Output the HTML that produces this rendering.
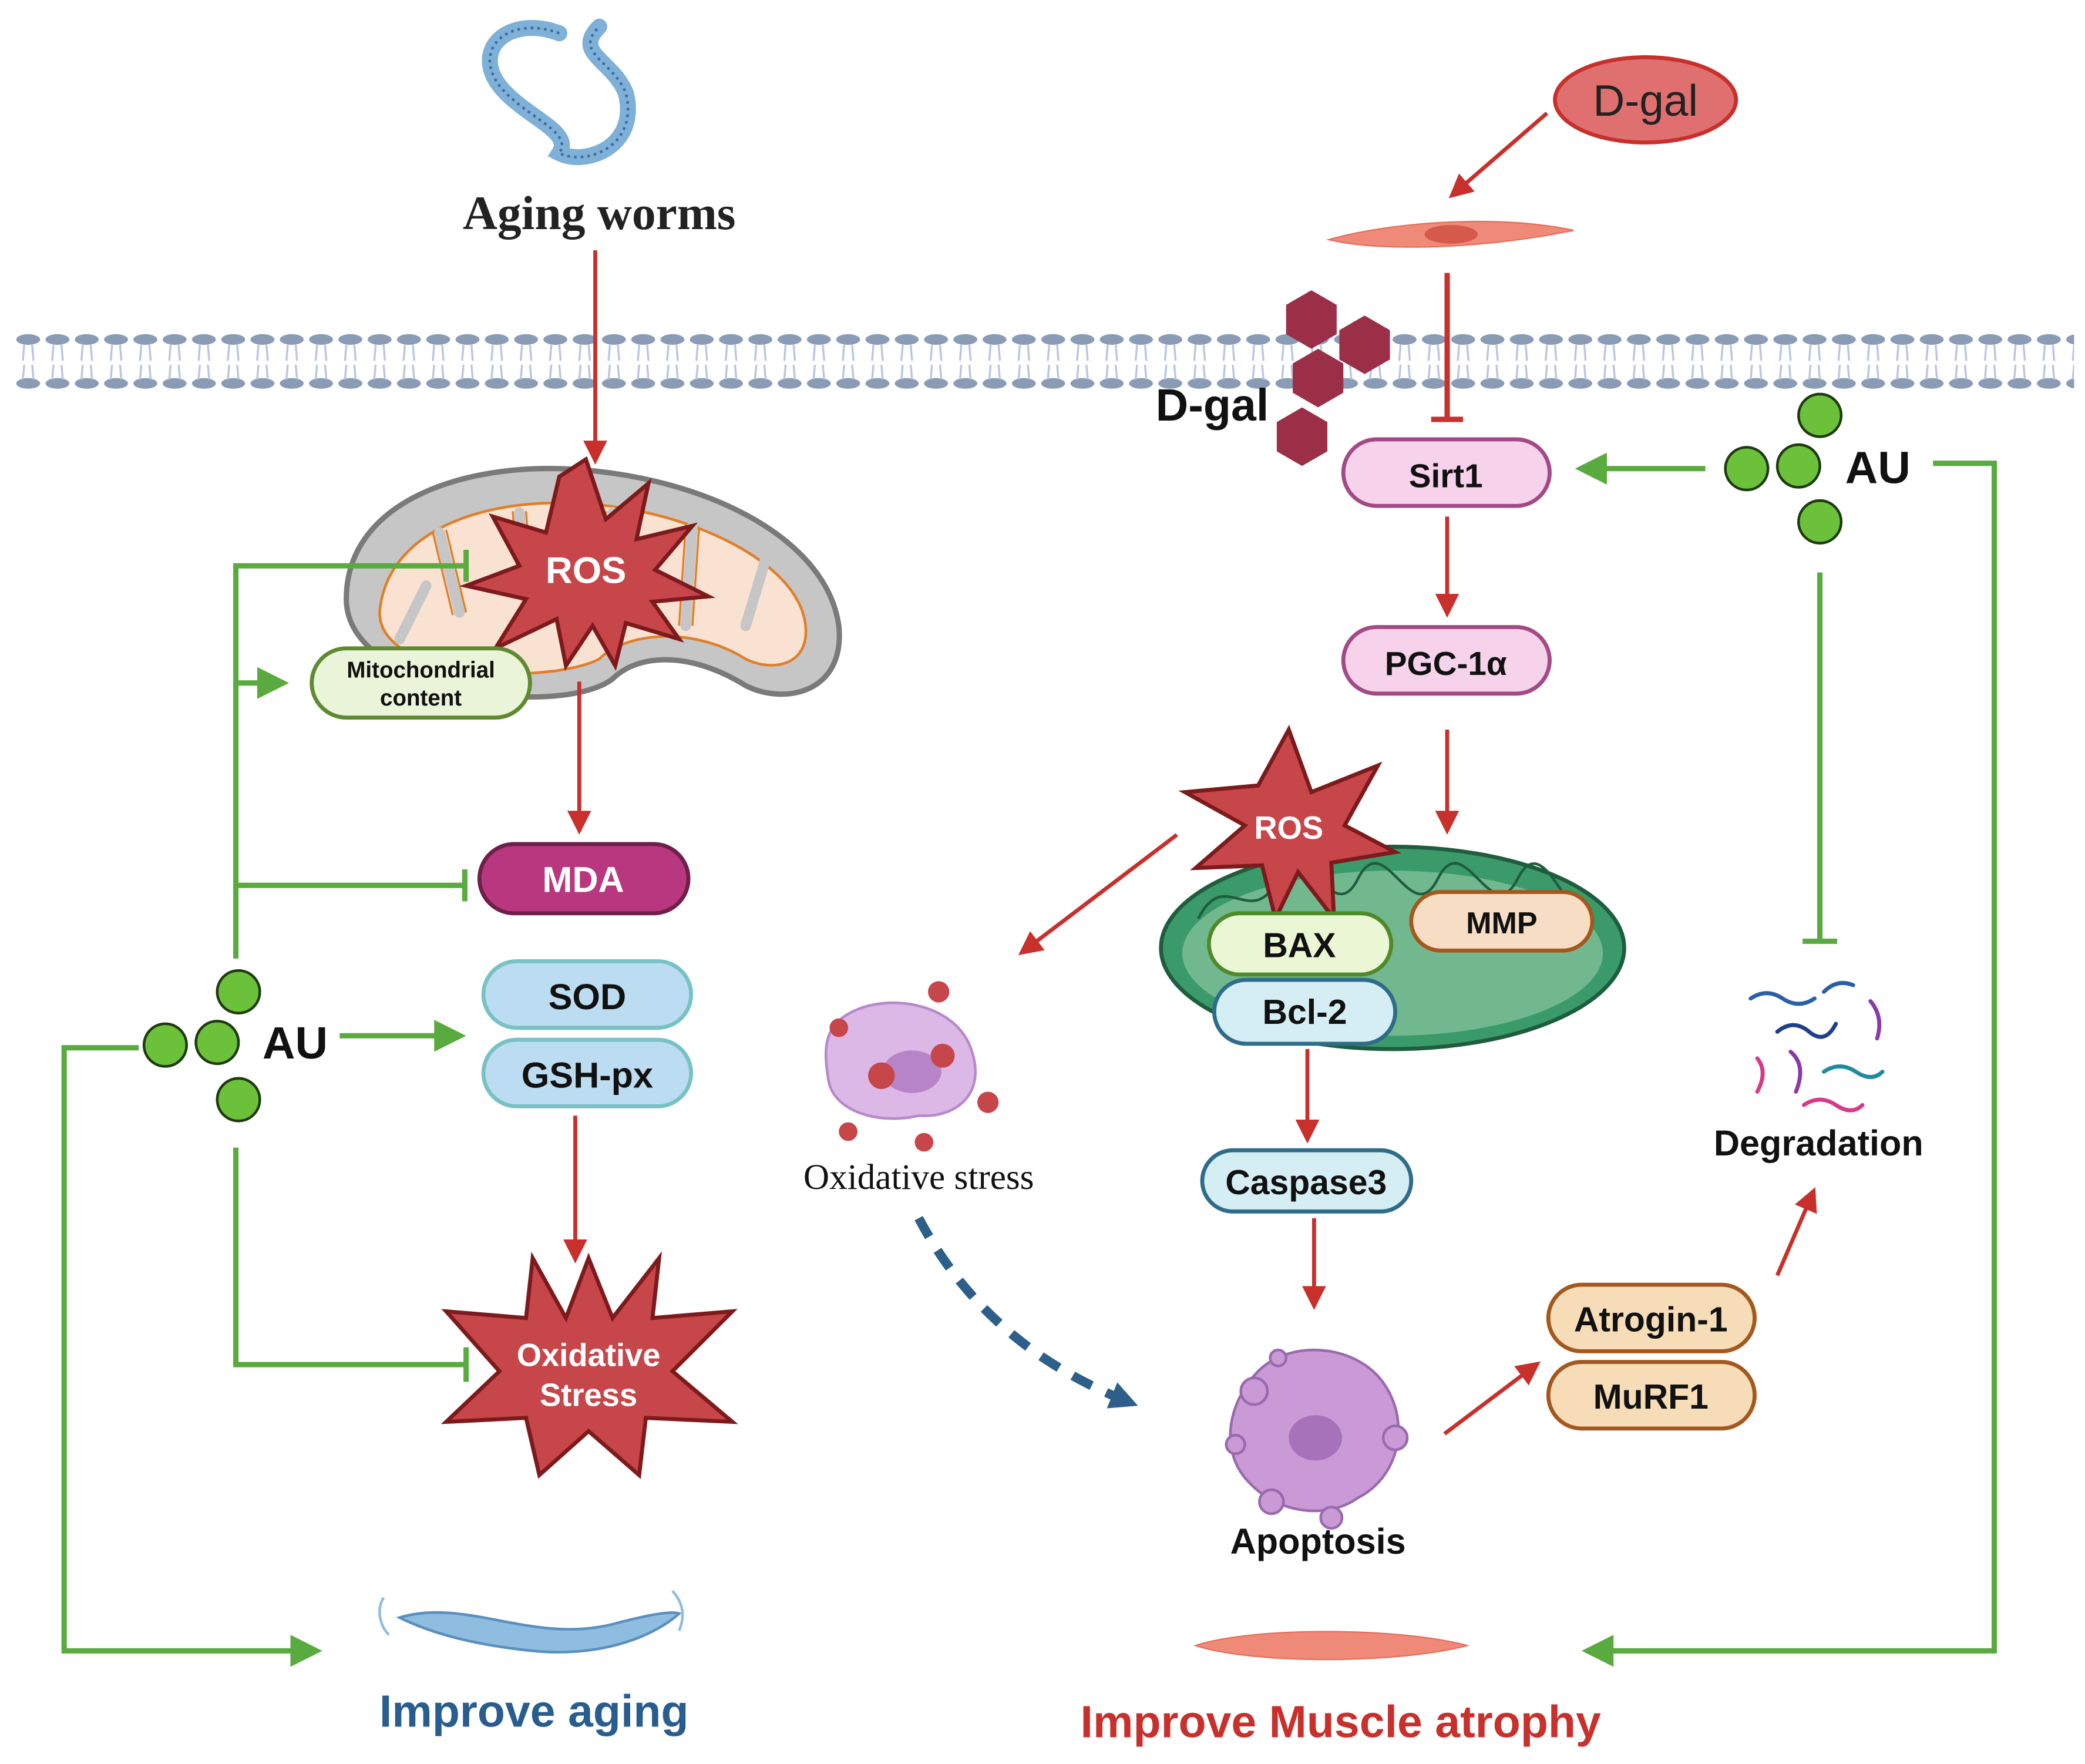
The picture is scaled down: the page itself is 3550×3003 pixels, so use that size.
<!DOCTYPE html>
<html><head><meta charset="utf-8"><style>
html,body{margin:0;padding:0;background:#fff}
svg{display:block}
text{font-family:"Liberation Sans",sans-serif;font-weight:bold}
</style></head><body>
<svg width="3550" height="3003" viewBox="0 0 1566 1325" xmlns="http://www.w3.org/2000/svg">
<defs>
<pattern id="mem" x="10" y="0" width="22" height="60" patternUnits="userSpaceOnUse">
<ellipse cx="11" cy="15" rx="9" ry="4" fill="#8a9bb5"/>
<ellipse cx="11" cy="48" rx="9" ry="4" fill="#8a9bb5"/>
<path d="M8,19 L7,31 M14,19 L15,31 M8,34 L7,45 M14,34 L15,45" stroke="#b7c6e0" stroke-width="1.5"/>
</pattern>
<marker id="ar" markerWidth="6" markerHeight="6" refX="3" refY="3" orient="auto" markerUnits="strokeWidth"><path d="M0,0 L6,3 L0,6z" fill="#c8302c"/></marker>
<marker id="ag" markerWidth="6" markerHeight="6" refX="3" refY="3" orient="auto" markerUnits="strokeWidth"><path d="M0,0 L6,3 L0,6z" fill="#5aab3f"/></marker>
<marker id="ab" markerWidth="3" markerHeight="3" refX="1.5" refY="1.5" orient="auto" markerUnits="strokeWidth"><path d="M0,0 L3,1.5 L0,3z" fill="#2d5f8a"/></marker>
</defs>
<rect width="1566" height="1325" fill="#fff"/>
<rect x="10" y="240" width="1548" height="60" fill="url(#mem)"/>

<path d="M420,25 C380,10 350,40 380,70 C400,90 430,100 420,115 C440,125 480,110 470,70 C460,45 430,40 450,20" fill="none" stroke="#7fb0d8" stroke-width="12" stroke-linecap="round"/>
<path d="M420,25 C380,10 350,40 380,70 C400,90 430,100 420,115 C440,125 480,110 470,70 C460,45 430,40 450,20" fill="none" stroke="#3c6fa0" stroke-width="2" stroke-dasharray="2 3"/>
<text x="450" y="172" style="font-family:'Liberation Serif',serif;font-weight:bold" font-size="36" text-anchor="middle" fill="#222">Aging worms</text>
<line x1="447" y1="188" x2="447" y2="340" stroke="#c8302c" stroke-width="3" marker-end="url(#ar)"/>

<path d="M260,450 C260,380 340,350 420,352 C520,355 620,400 630,470 C635,520 590,530 560,515 C520,490 480,490 460,510 C420,540 260,520 260,450z" fill="#c6c6c6" stroke="#7a7a7a" stroke-width="4"/>
<path d="M285,460 C290,400 360,375 430,378 C510,380 600,420 605,470 C608,500 580,505 560,495 C520,470 470,475 450,495 C410,515 285,510 285,460z" fill="#fae2d3" stroke="#e07f2a" stroke-width="2"/>
<g stroke="#c6c6c6" stroke-width="8" stroke-linecap="round">
<line x1="330" y1="400" x2="345" y2="460"/><line x1="390" y1="385" x2="395" y2="450"/><line x1="460" y1="385" x2="455" y2="460"/><line x1="520" y1="395" x2="515" y2="470"/><line x1="575" y1="420" x2="560" y2="470"/><line x1="300" y1="480" x2="320" y2="440"/>
</g>
<g stroke="#e07f2a" stroke-width="1.5" fill="none">
<path d="M325,400 L340,462 M335,398 L350,460 M385,384 L390,450 M395,384 L400,450 M455,384 L450,460 M465,385 L460,460 M515,394 L510,470 M525,396 L520,470"/>
</g>
<polygon points="440,345 455,390 487,363 478,405 520,395 492,428 532,448 490,452 510,480 470,468 462,500 445,470 425,500 418,465 372,487 395,450 350,440 390,425 370,388 410,400 420,358" fill="#c6464a" stroke="#7d1a1c" stroke-width="3"/>
<text x="440" y="438" font-size="28" fill="#fff" text-anchor="middle">ROS</text>
<rect x="234" y="487" width="164" height="52" rx="26" fill="#e9f4d8" stroke="#5f8a2f" stroke-width="3"/>
<text x="316" y="509" font-size="17" text-anchor="middle" fill="#111">Mitochondrial</text>
<text x="316" y="530" font-size="17" text-anchor="middle" fill="#111">content</text>
<line x1="435" y1="512" x2="435" y2="618" stroke="#c8302c" stroke-width="3" marker-end="url(#ar)"/>

<rect x="360" y="634" width="157" height="52" rx="26" fill="#b8377f" stroke="#6e1f4a" stroke-width="3"/>
<text x="438" y="670" font-size="27" fill="#fff" text-anchor="middle">MDA</text>
<rect x="363" y="722" width="156" height="50" rx="25" fill="#bcdcf2" stroke="#79c2c4" stroke-width="3"/>
<text x="441" y="758" font-size="27" fill="#111" text-anchor="middle">SOD</text>
<rect x="363" y="781" width="156" height="50" rx="25" fill="#bcdcf2" stroke="#79c2c4" stroke-width="3"/>
<text x="441" y="817" font-size="27" fill="#111" text-anchor="middle">GSH-px</text>
<line x1="432" y1="838" x2="432" y2="940" stroke="#c8302c" stroke-width="3" marker-end="url(#ar)"/>
<polygon points="442,945 460,990 495,945 490,990 550,985 505,1030 550,1068 485,1065 480,1108 442,1075 405,1108 395,1065 335,1068 375,1030 335,985 395,990 400,945 425,990" fill="#c6464a" stroke="#7d1a1c" stroke-width="3"/>
<text x="442" y="1026" font-size="24" fill="#fff" text-anchor="middle">Oxidative</text>
<text x="442" y="1056" font-size="24" fill="#fff" text-anchor="middle">Stress</text>

<g fill="#6cc13a" stroke="#1f3a10" stroke-width="2">
<circle cx="179" cy="745" r="16"/><circle cx="124" cy="785" r="16"/><circle cx="163" cy="783" r="16"/><circle cx="179" cy="826" r="16"/>
</g>
<text x="197" y="795" font-size="34" fill="#111">AU</text>
<g fill="none" stroke="#5aab3f" stroke-width="4">
<path d="M177,720 L177,425 L350,425"/><line x1="350" y1="413" x2="350" y2="437"/>
<path d="M177,513 L205,513" marker-end="url(#ag)"/>
<path d="M177,665 L349,665"/><line x1="349" y1="653" x2="349" y2="677"/>
<path d="M255,778 L338,778" marker-end="url(#ag)"/>
<path d="M177,862 L177,1025 L350,1025"/><line x1="350" y1="1012" x2="350" y2="1038"/>
<path d="M104,787 L48,787 L48,1240 L230,1240" marker-end="url(#ag)"/>
</g>
<path d="M300,1215 C350,1200 400,1235 460,1220 C490,1212 505,1210 510,1212 C490,1230 450,1245 400,1240 C350,1235 320,1225 300,1215z" fill="#8fbde0" stroke="#5a8fbf" stroke-width="2"/>
<path d="M288,1200 C282,1210 286,1222 292,1228 M505,1195 C514,1205 514,1215 510,1225" fill="none" stroke="#8fbde0" stroke-width="2"/>
<text x="401" y="1297" font-size="34" fill="#2a5d8f" text-anchor="middle">Improve aging</text>

<ellipse cx="1236" cy="75" rx="68" ry="32" fill="#e07070" stroke="#c8302c" stroke-width="3"/>
<text x="1236" y="87" style="font-weight:normal" font-size="33" fill="#222" text-anchor="middle">D-gal</text>
<path d="M1162,85 L1095,143" stroke="#c8302c" stroke-width="3" fill="none" marker-end="url(#ar)"/>
<path d="M998,180 C1040,168 1120,160 1182,173 C1120,186 1040,190 998,180z" fill="#f08a78" stroke="#e56e5a" stroke-width="1"/>
<ellipse cx="1090" cy="176" rx="20" ry="7" fill="#d55a4c"/>
<line x1="1087" y1="205" x2="1087" y2="315" stroke="#c8302c" stroke-width="4"/>
<line x1="1075" y1="315" x2="1099" y2="315" stroke="#c8302c" stroke-width="4"/>
<g fill="#9b2f47">
<polygon points="985,218 1004,229 1004,251 985,262 966,251 966,229"/>
<polygon points="1025,237 1044,248 1044,270 1025,281 1006,270 1006,248"/>
<polygon points="990,262 1009,273 1009,295 990,306 971,295 971,273"/>
<polygon points="978,306 997,317 997,339 978,350 959,339 959,317"/>
</g>
<text x="868" y="316" font-size="34" fill="#111">D-gal</text>
<rect x="1009" y="330" width="155" height="50" rx="25" fill="#f6d3ea" stroke="#a24a86" stroke-width="3"/>
<text x="1086" y="366" font-size="25" fill="#111" text-anchor="middle">Sirt1</text>
<line x1="1087" y1="388" x2="1087" y2="455" stroke="#c8302c" stroke-width="3" marker-end="url(#ar)"/>
<rect x="1009" y="471" width="155" height="50" rx="25" fill="#f6d3ea" stroke="#a24a86" stroke-width="3"/>
<text x="1086" y="507" font-size="25" fill="#111" text-anchor="middle">PGC-1α</text>
<line x1="1087" y1="548" x2="1087" y2="618" stroke="#c8302c" stroke-width="3" marker-end="url(#ar)"/>

<ellipse cx="1046" cy="712" rx="174" ry="76" fill="#3a9a6a" stroke="#1f5d3e" stroke-width="3"/>
<ellipse cx="1046" cy="716" rx="158" ry="62" fill="#72b88f"/>
<path d="M900,690 C920,650 940,700 960,660 S1000,700 1020,660 S1060,700 1080,660 S1120,700 1140,660 S1180,700 1195,690" fill="none" stroke="#1f5d3e" stroke-width="2"/>
<polygon points="968,548 985,595 1035,575 1010,620 1048,640 1000,648 1002,690 975,655 958,690 948,650 898,652 935,620 890,595 945,590" fill="#c6464a" stroke="#7d1a1c" stroke-width="3"/>
<text x="968" y="630" font-size="24" fill="#fff" text-anchor="middle">ROS</text>
<rect x="908" y="686" width="137" height="46" rx="23" fill="#eaf6d4" stroke="#4f8a2a" stroke-width="3"/>
<text x="976" y="719" font-size="26" fill="#111" text-anchor="middle">BAX</text>
<rect x="1060" y="670" width="136" height="44" rx="22" fill="#f6ddc4" stroke="#a4581e" stroke-width="3"/>
<text x="1128" y="701" font-size="23" fill="#111" text-anchor="middle">MMP</text>
<rect x="912" y="736" width="136" height="48" rx="24" fill="#d4eef4" stroke="#2e6c8a" stroke-width="3"/>
<text x="980" y="769" font-size="26" fill="#111" text-anchor="middle">Bcl-2</text>
<line x1="982" y1="788" x2="982" y2="850" stroke="#c8302c" stroke-width="3" marker-end="url(#ar)"/>
<rect x="903" y="864" width="157" height="46" rx="23" fill="#d4eef4" stroke="#2e6c8a" stroke-width="3"/>
<text x="981" y="897" font-size="26" fill="#111" text-anchor="middle">Caspase3</text>
<line x1="987" y1="915" x2="987" y2="975" stroke="#c8302c" stroke-width="3" marker-end="url(#ar)"/>
<path d="M884,627 L772,712" stroke="#c8302c" stroke-width="3" fill="none" marker-end="url(#ar)"/>

<path d="M640,760 C670,745 720,755 730,790 C740,820 720,840 690,838 C660,845 625,835 622,810 C618,785 620,770 640,760z" fill="#dcb8e6" stroke="#b888cc" stroke-width="2"/>
<ellipse cx="685" cy="805" rx="22" ry="16" fill="#b884c8"/>
<g fill="#c6464a">
<circle cx="705" cy="745" r="8"/><circle cx="630" cy="772" r="7"/><circle cx="662" cy="808" r="10"/><circle cx="708" cy="793" r="9"/><circle cx="742" cy="828" r="8"/><circle cx="637" cy="850" r="7"/><circle cx="694" cy="858" r="7"/>
</g>
<text x="690" y="893" style="font-family:'Liberation Serif',serif;font-weight:normal" font-size="27" fill="#111" text-anchor="middle">Oxidative stress</text>
<path d="M690,915 Q740,1010 845,1052" fill="none" stroke="#2d5f8a" stroke-width="7" stroke-dasharray="16 12" marker-end="url(#ab)"/>

<path d="M945,1030 C970,1005 1020,1010 1040,1040 C1060,1070 1050,1110 1020,1125 C1000,1140 960,1140 935,1110 C915,1085 925,1050 945,1030z" fill="#c99ad6" stroke="#9a6aae" stroke-width="2"/>
<g fill="#c99ad6" stroke="#9a6aae" stroke-width="2"><circle cx="942" cy="1045" r="10"/><circle cx="1048" cy="1080" r="9"/><circle cx="955" cy="1128" r="9"/><circle cx="1000" cy="1140" r="8"/><circle cx="960" cy="1020" r="6"/><circle cx="928" cy="1085" r="7"/></g>
<ellipse cx="988" cy="1080" rx="20" ry="17" fill="#a872bb"/>
<text x="990" y="1167" font-size="27" fill="#111" text-anchor="middle">Apoptosis</text>
<path d="M1085,1077 L1150,1028" stroke="#c8302c" stroke-width="3" fill="none" marker-end="url(#ar)"/>
<rect x="1163" y="965" width="155" height="50" rx="25" fill="#f6ddb8" stroke="#a4581e" stroke-width="3"/>
<text x="1240" y="1000" font-size="26" fill="#111" text-anchor="middle">Atrogin-1</text>
<rect x="1163" y="1023" width="155" height="50" rx="25" fill="#f6ddb8" stroke="#a4581e" stroke-width="3"/>
<text x="1240" y="1058" font-size="26" fill="#111" text-anchor="middle">MuRF1</text>
<path d="M1335,958 L1360,900" stroke="#c8302c" stroke-width="3" fill="none" marker-end="url(#ar)"/>

<g fill="none" stroke-width="3" stroke-linecap="round">
<path d="M1315,750 q12,-8 24,0 t24,0" stroke="#2a5fa8"/><path d="M1335,775 q12,-10 24,0 t20,-6" stroke="#1f3f8a"/>
<path d="M1370,745 q10,-10 22,-5" stroke="#2a5fa8"/><path d="M1405,752 q10,12 5,28" stroke="#8a3aa8"/>
<path d="M1320,795 q8,10 0,25" stroke="#d63a8a"/><path d="M1345,790 q12,10 4,30" stroke="#8a3aa8"/>
<path d="M1370,805 q12,-8 24,0 t20,0" stroke="#1f8aa0"/><path d="M1355,830 q12,-8 24,0 t20,0" stroke="#d63a8a"/>
</g>
<text x="1366" y="868" font-size="27" fill="#111" text-anchor="middle">Degradation</text>

<g fill="#6cc13a" stroke="#1f3a10" stroke-width="2">
<circle cx="1367" cy="312" r="16"/><circle cx="1312" cy="352" r="16"/><circle cx="1351" cy="350" r="16"/><circle cx="1367" cy="392" r="16"/>
</g>
<text x="1386" y="363" font-size="34" fill="#111">AU</text>
<g fill="none" stroke="#5aab3f" stroke-width="4">
<path d="M1281,352 L1195,352" marker-end="url(#ag)"/>
<path d="M1367,430 L1367,707"/><line x1="1354" y1="707" x2="1380" y2="707"/>
<path d="M1452,348 L1498,348 L1498,1240 L1200,1240" marker-end="url(#ag)"/>
</g>
<path d="M898,1236 C940,1222 1050,1222 1102,1236 C1050,1250 940,1250 898,1236z" fill="#f08a78" stroke="#e56e5a"/>
<text x="1007" y="1305" font-size="34" fill="#c8302c" text-anchor="middle">Improve Muscle atrophy</text>
</svg>
</body></html>
